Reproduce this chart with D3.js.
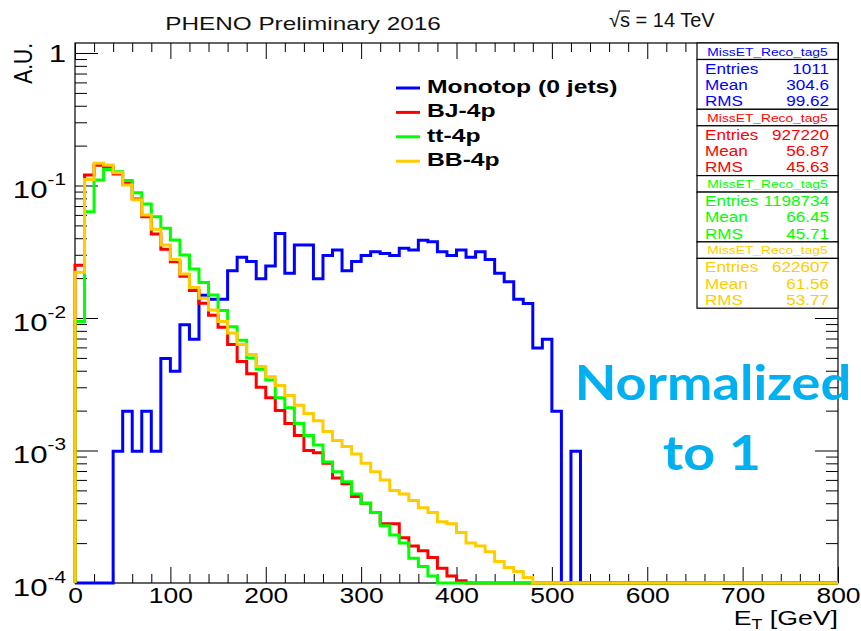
<!DOCTYPE html>
<html>
<head>
<meta charset="utf-8">
<script src="https://cdn.jsdelivr.net/npm/d3@7/dist/d3.min.js"></script>
<style>
  body { margin: 0; background: #fff; }
  text { font-family: "Liberation Sans", Arial, sans-serif; }
</style>
</head>
<body>
<div id="chart"></div>
<script>
// MissET, 10 GeV bins from 0 to 800 GeV, empty bins past the end of each list
var binWidth = 10;
var nBins = 80;

// Monotop: raw counts per bin (1011 entries)
var monotopEntries = 1011;
var monotopCounts = [0, 0, 0, 0, 1, 2, 1, 2, 1, 5,
    4, 9, 7, 15, 14, 14, 23, 29, 27, 20,
    25, 44, 22, 36, 36, 20, 30, 33, 23, 27,
    30, 32, 31, 30, 34, 33, 39, 38, 32, 30,
    33, 29, 32, 28, 22, 19, 14, 13, 6, 7,
    2, 0, 1, 0];

// backgrounds, already normalised to 1
var bjValues = [0.025, 0.120, 0.142, 0.136, 0.122, 0.104, 0.079, 0.058, 0.043, 0.033,
    0.0266, 0.0207, 0.0161, 0.0129, 0.0105, 0.0085, 0.0063, 0.0047, 0.0038, 0.0030,
    0.0025, 0.0020, 0.0016, 0.0013, 0.0010, 0.00096, 0.0008, 0.00062, 0.00056, 0.00045,
    0.0004, 0.00034, 0.00028, 0.00028, 0.00022, 0.00019, 0.000175, 0.000156, 0.000129, 0.000113,
    0.000104];
var ttValues = [0.0094, 0.0634, 0.110, 0.132, 0.127, 0.109, 0.088, 0.0725, 0.058, 0.0475,
    0.0388, 0.0299, 0.0234, 0.0185, 0.0149, 0.0114, 0.0086, 0.0068, 0.0050, 0.0041,
    0.0034, 0.0025, 0.0021, 0.0016, 0.0013, 0.0011, 0.00082, 0.00069, 0.00058, 0.00047,
    0.0004, 0.00034, 0.00027, 0.00023, 0.0002, 0.000154, 0.000133, 0.000113];
var bbValues = [0.0221, 0.111, 0.147, 0.143, 0.125, 0.101, 0.078, 0.060, 0.0467, 0.0356,
    0.0277, 0.0215, 0.017, 0.0141, 0.0115, 0.0094, 0.0077, 0.0063, 0.0053, 0.0043,
    0.0036, 0.0031, 0.0026, 0.0022, 0.0019, 0.00168, 0.00139, 0.00119, 0.00107, 0.00094,
    0.0008, 0.00069, 0.0006, 0.0005, 0.00047, 0.00042, 0.00037, 0.00034, 0.00029, 0.00028,
    0.00024, 0.0002, 0.00019, 0.000172, 0.000145, 0.000131, 0.000122, 0.00011];

var seriesNames = ["Monotop (0 jets)", "BJ-4p", "tt-4p", "BB-4p"];
var seriesColors = ["#0000ff", "#ff0000", "#00ff00", "#ffcc00"];

// stat boxes
var statTitle = "MissET_Reco_tag5";
var statEntries = ["1011", "927220", "1198734", "622607"];
var statMean = ["304.6", "56.87", "66.45", "61.56"];
var statRms = ["99.62", "45.63", "45.71", "53.77"];

// axis ticks
var xMajorTicks = [0, 100, 200, 300, 400, 500, 600, 700, 800];
var yMajorTicks = [1e-4, 1e-3, 1e-2, 1e-1, 1];
var yExponents = [-4, -3, -2, -1, 0];

var width = 861, height = 631;
var frame = {left: 75, right: 838, top: 43, bottom: 583};
var yFloor = 1e-4, yTop = 1.19;

var svg = d3.select("#chart").append("svg")
    .attr("width", width)
    .attr("height", height);

var x = d3.scaleLinear().domain([0, nBins * binWidth]).range([frame.left, frame.right]);
var y = d3.scaleLog().domain([yFloor, yTop]).range([frame.bottom, frame.top]);

// the picture is a stretched ROOT canvas, text comes out wide
function wideText(parent, tx, ty, sx) {
    return parent.append("text")
        .attr("transform", "translate(" + tx + "," + ty + ") scale(" + sx + ",1)");
}

// minor ticks
var xMinorTicks = d3.range(0, 801, 20).filter(function(v) { return v % 100 !== 0; });
var yMinorTicks = [];
yExponents.slice(0, 4).forEach(function(e) {
    for (var m = 2; m <= 9; m++) yMinorTicks.push(m * Math.pow(10, e));
});

// axes, all ticks pointing into the frame
function addAxis(axis, tx, ty) {
    var g = svg.append("g").attr("transform", "translate(" + tx + "," + ty + ")").call(axis);
    g.select(".domain").remove();
    g.selectAll("line").attr("stroke", "#000").attr("stroke-width", 1);
    return g;
}

var xAxisG = addAxis(d3.axisBottom(x).tickValues(xMajorTicks).tickSize(-16).tickSizeOuter(0).tickPadding(4), 0, frame.bottom);
xAxisG.selectAll("text")
    .attr("x", 0)
    .attr("transform", "scale(1.2,1)")
    .attr("font-size", 22)
    .attr("fill", "#000")
    .attr("font-family", "Liberation Sans, Arial, sans-serif");
addAxis(d3.axisBottom(x).tickValues(xMinorTicks).tickSize(-9).tickFormat(""), 0, frame.bottom);
addAxis(d3.axisTop(x).tickValues(xMajorTicks).tickSize(-16).tickFormat(""), 0, frame.top);
addAxis(d3.axisTop(x).tickValues(xMinorTicks).tickSize(-9).tickFormat(""), 0, frame.top);

var yAxisG = addAxis(d3.axisLeft(y).tickValues(yMajorTicks).tickSize(-23).tickPadding(9), frame.left, 0);
addAxis(d3.axisLeft(y).tickValues(yMinorTicks).tickSize(-12).tickFormat(""), frame.left, 0);
addAxis(d3.axisRight(y).tickValues(yMajorTicks).tickSize(-23).tickFormat(""), frame.right, 0);
addAxis(d3.axisRight(y).tickValues(yMinorTicks).tickSize(-12).tickFormat(""), frame.right, 0);

// log labels as 10^n
yAxisG.selectAll("text").each(function(d) {
    var t = d3.select(this).text("")
        .attr("x", 0)
        .attr("transform", "translate(-9,0) scale(1.3,1)")
        .attr("font-size", 24)
        .attr("fill", "#000")
        .attr("font-family", "Liberation Sans, Arial, sans-serif");
    var e = Math.round(Math.log10(d));
    if (e === 0) {
        t.attr("dy", "0.36em").text("1");
    } else {
        t.attr("dy", "0.5em");
        t.append("tspan").text("10");
        t.append("tspan").attr("font-size", 16).attr("dy", "-0.8em").text("-" + (-e));
    }
});

// frame
svg.append("rect")
    .attr("x", frame.left).attr("y", frame.top)
    .attr("width", frame.right - frame.left).attr("height", frame.bottom - frame.top)
    .attr("fill", "none").attr("stroke", "#000").attr("stroke-width", 1.2);

// histograms
svg.append("clipPath").attr("id", "clip").append("rect")
    .attr("x", frame.left - 2).attr("y", frame.top)
    .attr("width", frame.right - frame.left + 4).attr("height", frame.bottom - frame.top + 2);

var seriesValues = [
    monotopCounts.map(function(c) { return c / monotopEntries; }),
    bjValues, ttValues, bbValues
];

function histPoints(vals) {
    var pts = [[x(0), y(yFloor)]];
    for (var i = 0; i < nBins; i++) {
        var v = vals[i] || 0;
        var yy = v >= yFloor ? y(v) : y(yFloor);
        pts.push([x(i * binWidth), yy], [x((i + 1) * binWidth), yy]);
    }
    pts.push([x(nBins * binWidth), y(yFloor)]);
    return pts;
}

var line = d3.line();
svg.append("g").attr("clip-path", "url(#clip)")
    .selectAll("path")
    .data(seriesValues)
    .enter().append("path")
    .attr("d", function(d) { return line(histPoints(d)); })
    .attr("fill", "none")
    .attr("stroke", function(d, i) { return seriesColors[i]; })
    .attr("stroke-width", 3)
    .attr("stroke-linejoin", "miter");

// titles
wideText(svg, 303, 30, 1.28)
    .attr("text-anchor", "middle")
    .attr("font-size", 19)
    .attr("fill", "#111")
    .text("PHENO Preliminary 2016");

var sqrtText = svg.append("text")
    .attr("x", 609).attr("y", 27)
    .attr("font-size", 20)
    .attr("fill", "#111")
    .text("\u221As = 14 TeV");
var sBox = sqrtText.node().getExtentOfChar(1);
var rBox = sqrtText.node().getExtentOfChar(0);
svg.append("line")
    .attr("x1", rBox.x + rBox.width - 1).attr("x2", sBox.x + sBox.width)
    .attr("y1", rBox.y + 2).attr("y2", rBox.y + 2)
    .attr("stroke", "#111").attr("stroke-width", 1.2);

svg.append("text")
    .attr("transform", "translate(32,43) scale(1.2,1) rotate(-90)")
    .attr("text-anchor", "end")
    .attr("font-size", 21)
    .attr("fill", "#000")
    .text("A.U.");

var xTitle = wideText(svg, frame.right, 625, 1.27)
    .attr("text-anchor", "end")
    .attr("font-size", 21)
    .attr("fill", "#000");
xTitle.append("tspan").text("E");
xTitle.append("tspan").attr("font-size", 14).attr("dy", 4).text("T");
xTitle.append("tspan").attr("dy", -4).text(" [GeV]");

// legend
var legend = svg.append("g").selectAll("g")
    .data(seriesNames)
    .enter().append("g")
    .attr("transform", function(d, i) { return "translate(396," + (93 + i * 24.4) + ")"; });
legend.append("line")
    .attr("x1", 0).attr("x2", 24).attr("y1", -5).attr("y2", -5)
    .attr("stroke", function(d, i) { return seriesColors[i]; })
    .attr("stroke-width", 3);
legend.append("text")
    .attr("transform", "translate(31,0) scale(1.3,1)")
    .attr("font-size", 19)
    .attr("font-weight", "bold")
    .attr("fill", "#000")
    .text(function(d) { return d; });

// stat boxes
var boxX = 697, boxW = frame.right - boxX, boxH = 66.3, titleH = 16.5;
seriesColors.forEach(function(c, i) {
    var top = frame.top + i * boxH;
    var g = svg.append("g");
    g.append("rect").attr("x", boxX).attr("y", top).attr("width", boxW).attr("height", titleH)
        .attr("fill", "#fff").attr("stroke", "#000").attr("stroke-width", 1.2);
    g.append("rect").attr("x", boxX).attr("y", top + titleH).attr("width", boxW).attr("height", boxH - titleH)
        .attr("fill", "#fff").attr("stroke", "#000").attr("stroke-width", 1.2);
    wideText(g, boxX + boxW / 2, top + 12.5, 1.2)
        .attr("text-anchor", "middle").attr("font-size", 11.5).attr("fill", c)
        .text(statTitle);
    var rows = [["Entries", statEntries[i]], ["Mean", statMean[i]], ["RMS", statRms[i]]];
    rows.forEach(function(r, j) {
        var yy = top + titleH + 14 + j * 16.3;
        wideText(g, boxX + 8, yy, 1.14)
            .attr("font-size", 15).attr("fill", c).text(r[0]);
        wideText(g, boxX + boxW - 9, yy, 1.14)
            .attr("text-anchor", "end").attr("font-size", 15).attr("fill", c).text(r[1]);
    });
});

// annotation
var note = svg.append("g")
    .attr("font-weight", "bold")
    .attr("font-size", 48)
    .attr("fill", "#00b0f0")
    .attr("text-anchor", "middle");
wideText(note, 713, 400, 1.13).style("font-family", "Lato, 'Open Sans', sans-serif").text("Normalized");
wideText(note, 712, 470, 1.16).style("font-family", "Lato, 'Open Sans', sans-serif").text("to 1");
</script>
</body>
</html>
